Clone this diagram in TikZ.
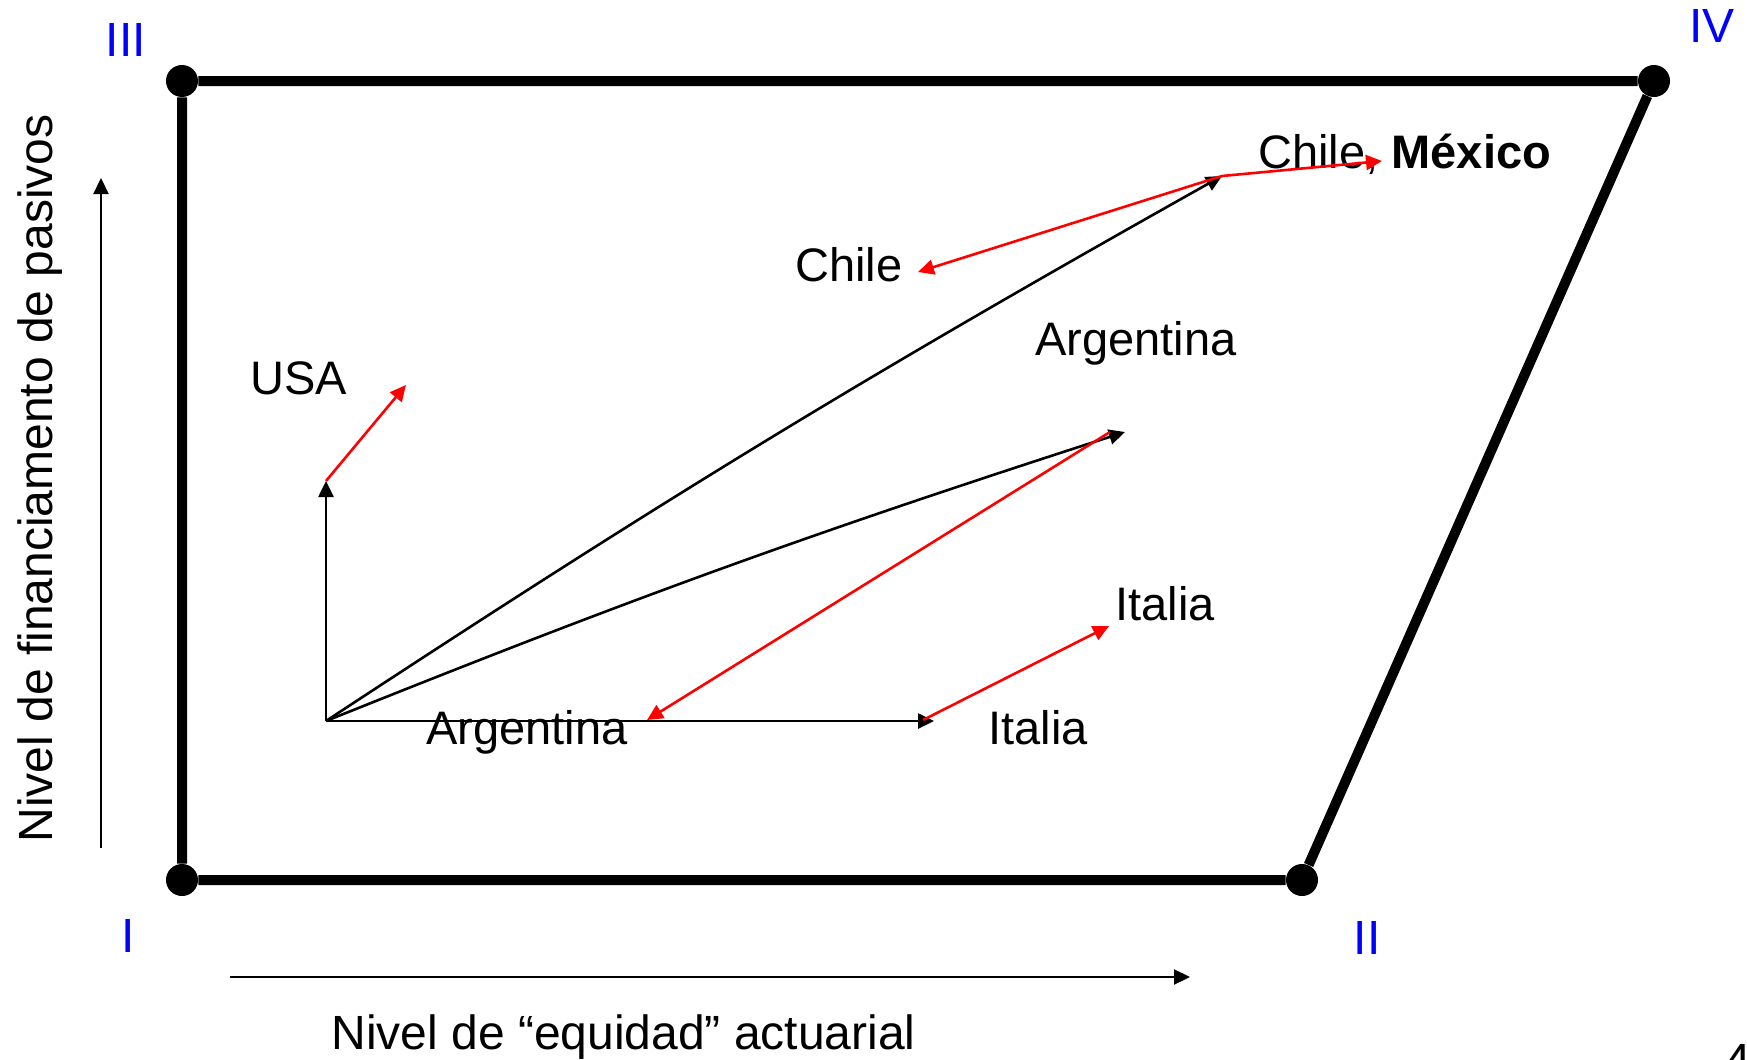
\documentclass[tikz,border=0pt]{standalone}
\usepackage{fontspec}
\setmainfont{Liberation Sans}
\usetikzlibrary{arrows.meta}

\begin{document}
\begin{tikzpicture}[x=0.5pt,y=-0.5pt,>={Triangle[length=8pt,width=7.5pt]},
    corner/.style={circle,fill=black,inner sep=0pt,minimum size=16pt},
    roman/.style={text=blue,inner sep=0pt,font=\fontsize{24}{28}\selectfont},
    country/.style={inner sep=0pt,anchor=base west,font=\fontsize{23.5}{28}\selectfont},
    axislab/.style={inner sep=0pt,anchor=base west,font=\fontsize{24}{28}\selectfont},
    axis/.style={->,line width=1.1pt},
    vec/.style={->,line width=1.3pt},
    move/.style={->,red,line width=1.3pt}]
  \useasboundingbox (0,0) rectangle (1747,1060);

  % the four regions
  \node[corner] at (182,880) (cI) {};
  \node[corner] at (1302,880) (cII) {};
  \node[corner] at (182,81) (cIII) {};
  \node[corner] at (1654,81) (cIV) {};
  \draw[line width=5pt] (cI) -- (cII) -- (cIV) -- (cIII) -- (cI);
  \node[roman] at (128,936) (nI) {I};
  \node[roman] at (1367,938) (nII) {II};
  \node[roman] at (126,40) (nIII) {III};
  \node[roman] at (1712,26) (nIV) {IV};

  % axes
  \coordinate (xa0) at (230,977);
  \coordinate (xa1) at (1190,977);
  \coordinate (ya0) at (101,848);
  \coordinate (ya1) at (101,178);
  \draw[axis] (xa0) -- (xa1);
  \draw[axis] (ya0) -- (ya1);
  \node[axislab] at (331,1049) (xlab) {Nivel de “equidad” actuarial};
  \node[axislab,rotate=90] at (52,843) (ylab) {Nivel de financiamento de pasivos};

  % vectors
  \coordinate (o) at (326,721);
  \coordinate (usa) at (326,481);
  \coordinate (usaR) at (406,385);
  \coordinate (chmx) at (1222,176);
  \coordinate (chR) at (918,272);
  \coordinate (mxR) at (1382,161);
  \coordinate (arg) at (1125,432);
  \coordinate (argS) at (1110,432);
  \coordinate (argR) at (647,720);
  \coordinate (ita) at (934,721);
  \coordinate (itaS) at (923,720);
  \coordinate (itaR) at (1109,626);

  \node[country] at (1258,168) (lchmx) {Chile, \textbf{México}};
  \node[country] at (795,281) (lch) {Chile};
  \node[country] at (1035,355) (larg) {Argentina};
  \node[country] at (250,394) (lusa) {USA};
  \node[country] at (1115,620) (lita) {Italia};
  \node[country] at (988,744) (lita0) {Italia};
  \node[country] at (426,744) (larg0) {Argentina};
  \node[axislab] at (1724,1077) (pg) {4};

  \draw[vec] (o) -- (usa);
  \draw[vec] (o) to[bend left=2] (chmx);
  \draw[vec] (o) to[bend left=2] (arg);
  \draw[vec] (o) -- (ita);
  \draw[move] (usa) -- (usaR);
  \draw[move] (chmx) -- (chR);
  \draw[move] (chmx) -- (mxR);
  \draw[move] (argS) -- (argR);
  \draw[move] (itaS) -- (itaR);
\end{tikzpicture}
\end{document}
